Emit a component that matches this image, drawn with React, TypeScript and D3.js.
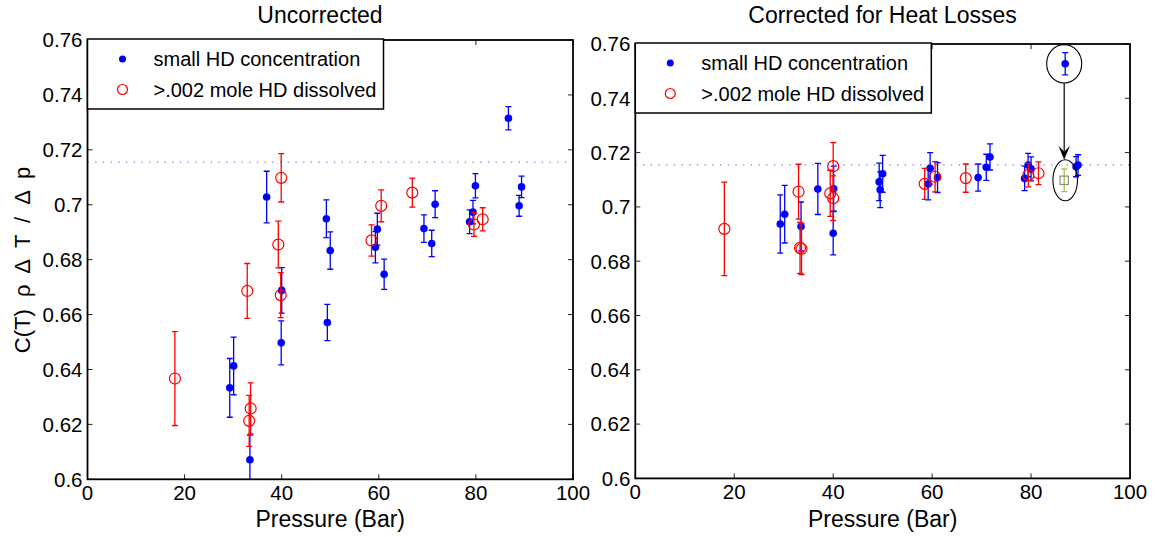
import React from 'react';
import * as d3 from 'd3';

const FONT = '"Liberation Sans", Arial, Helvetica, sans-serif';

// ---- Uncorrected measurements ----
// small HD concentration
const rawSmallP = [29.3, 30.1, 33.45, 36.9, 39.9, 40.0, 49.2, 49.4, 50.0, 59.3, 59.7, 61.1, 69.3, 70.9, 71.6, 78.7, 79.4, 79.9, 86.7, 88.9, 89.4];
const rawSmallV = [0.6333, 0.6413, 0.6071, 0.7028, 0.6497, 0.6688, 0.6949, 0.6571, 0.6833, 0.6845, 0.6911, 0.6747, 0.6913, 0.6859, 0.7002, 0.6938, 0.6973, 0.7069, 0.7315, 0.6996, 0.7065];
const rawSmallE = [0.0107, 0.0105, 0.009, 0.0094, 0.008, 0.0083, 0.0069, 0.0066, 0.0068, 0.0057, 0.0058, 0.0055, 0.005, 0.0048, 0.0049, 0.0043, 0.0043, 0.0044, 0.0042, 0.0038, 0.0039];
// >.002 mole HD dissolved
const rawHdP = [18.0, 32.9, 33.3, 33.6, 39.3, 39.8, 39.9, 58.5, 60.5, 66.9, 79.6, 81.4];
const rawHdV = [0.6367, 0.6686, 0.6213, 0.6258, 0.6855, 0.6671, 0.7098, 0.687, 0.6996, 0.7044, 0.6928, 0.6947];
const rawHdE = [0.0171, 0.01, 0.0093, 0.0093, 0.0085, 0.0082, 0.0088, 0.0057, 0.0058, 0.0053, 0.0043, 0.0042];

// ---- Corrected for heat losses ----
const corSmallP = [29.3, 30.2, 33.5, 36.9, 40.0, 40.1, 49.3, 49.5, 50.0, 59.2, 59.6, 61.1, 69.3, 70.95, 71.7, 78.7, 79.4, 80.0, 86.9, 89.1, 89.5];
const corSmallV = [0.6937, 0.6973, 0.6928, 0.7066, 0.6903, 0.7067, 0.7092, 0.7063, 0.7122, 0.7084, 0.7142, 0.7108, 0.7108, 0.7146, 0.7184, 0.7105, 0.7154, 0.714, 0.7527, 0.7148, 0.7154];
const corSmallE = [0.0107, 0.0106, 0.009, 0.0094, 0.008, 0.0083, 0.0069, 0.0066, 0.0068, 0.0058, 0.0058, 0.0055, 0.005, 0.0048, 0.0048, 0.0045, 0.0043, 0.0044, 0.0041, 0.0037, 0.0038];
const corHdP = [18.0, 33.0, 33.3, 33.6, 39.4, 40.0, 40.0, 58.5, 60.6, 66.8, 79.45, 81.5];
const corHdV = [0.6919, 0.7056, 0.6849, 0.6845, 0.705, 0.7032, 0.715, 0.7085, 0.7111, 0.7106, 0.7117, 0.7124];
const corHdE = [0.0172, 0.0101, 0.0094, 0.0094, 0.0085, 0.0082, 0.0087, 0.0057, 0.0056, 0.0052, 0.0043, 0.0042];

// flagged run and its reprocessed value
const flaggedP = 86.9;
const flaggedV = 0.7527;
const fixedP = 86.7;
const fixedV = 0.7098;
const fixedE = 0.0042;

// reference level
const refLevel = 0.7155;

const xTicks = [0, 20, 40, 60, 80, 100];
const xTickLabels = ['0', '20', '40', '60', '80', '100'];
const yTicks = [0.6, 0.62, 0.64, 0.66, 0.68, 0.7, 0.72, 0.74, 0.76];
const yTickLabels = ['0.6', '0.62', '0.64', '0.66', '0.68', '0.7', '0.72', '0.74', '0.76'];

const legendLabels = ['small HD concentration', '>.002 mole HD dissolved'];

const BLUE = '#0000ff';
const RED = '#ff0000';

type Series = { p: number[]; v: number[]; e: number[] };

type PanelProps = {
  id: string;
  x0: number;
  x1: number;
  yTop: number;
  yBot: number;
  title: string;
  titleX: number;
  small: Series;
  hd: Series;
  extras?: (x: d3.ScaleLinear<number, number>, y: d3.ScaleLinear<number, number>) => React.ReactNode;
};

function ErrorBars({ s, x, y, color }: { s: Series; x: any; y: any; color: string }) {
  const cap = 3;
  return (
    <g stroke={color} strokeWidth={1.3} fill="none">
      {s.p.map((p, i) => {
        const cx = x(p);
        const hi = y(s.v[i] + s.e[i]);
        const lo = y(s.v[i] - s.e[i]);
        return (
          <g key={i}>
            <line x1={cx} x2={cx} y1={hi} y2={lo} />
            <line x1={cx - cap} x2={cx + cap} y1={hi} y2={hi} />
            <line x1={cx - cap} x2={cx + cap} y1={lo} y2={lo} />
          </g>
        );
      })}
    </g>
  );
}

function Panel(props: PanelProps) {
  const { id, x0, x1, yTop, yBot, title, titleX, small, hd, extras } = props;
  const x = d3.scaleLinear().domain([0, 100]).range([x0, x1]);
  const y = d3.scaleLinear().domain([0.6, 0.76]).range([yBot, yTop]);
  const tick = 5;

  const lgX = x0;
  const lgY = yTop - 1;
  const lgW = 296;
  const lgH = 70;

  return (
    <g>
      <defs>
        <clipPath id={`clip-${id}`}>
          <rect x={x0} y={yTop} width={x1 - x0} height={yBot - yTop} />
        </clipPath>
      </defs>
      <rect x={x0} y={yTop} width={x1 - x0} height={yBot - yTop} fill="#fff" />

      {/* ticks on all four sides, pointing inward */}
      <g stroke="#222" strokeWidth={1}>
        {xTicks.map((t) => (
          <g key={`xt${t}`}>
            <line x1={x(t)} x2={x(t)} y1={yBot} y2={yBot - tick} />
            <line x1={x(t)} x2={x(t)} y1={yTop} y2={yTop + tick} />
          </g>
        ))}
        {yTicks.map((t) => (
          <g key={`yt${t}`}>
            <line x1={x0} x2={x0 + tick} y1={y(t)} y2={y(t)} />
            <line x1={x1} x2={x1 - tick} y1={y(t)} y2={y(t)} />
          </g>
        ))}
      </g>

      <g fontFamily={FONT} fontSize={20.5} fill="#000">
        {xTicks.map((t, i) => (
          <text key={`xl${t}`} x={x(t)} y={yBot + 21} textAnchor="middle">
            {xTickLabels[i]}
          </text>
        ))}
        {yTicks.map((t, i) => (
          <text key={`yl${t}`} x={x0 - 5} y={y(t)} dy="0.36em" textAnchor="end">
            {yTickLabels[i]}
          </text>
        ))}
      </g>

      {/* reference level */}
      <line
        x1={x0}
        x2={x1}
        y1={y(refLevel)}
        y2={y(refLevel)}
        stroke="#7b7bd8"
        strokeWidth={1.3}
        strokeDasharray="1.3 6.4"
      />

      <g clipPath={`url(#clip-${id})`}>
        <ErrorBars s={small} x={x} y={y} color={BLUE} />
        {small.p.map((p, i) => (
          <circle key={`s${i}`} cx={x(p)} cy={y(small.v[i])} r={3.8} fill={BLUE} />
        ))}
        <ErrorBars s={hd} x={x} y={y} color={RED} />
        {hd.p.map((p, i) => (
          <circle key={`h${i}`} cx={x(p)} cy={y(hd.v[i])} r={5.5} fill="none" stroke={RED} strokeWidth={1.2} />
        ))}
        {extras && extras(x, y)}
      </g>

      <rect x={x0} y={yTop} width={x1 - x0} height={yBot - yTop} fill="none" stroke="#000" strokeWidth={1.8} />

      {/* legend */}
      <g>
        <rect x={lgX} y={lgY} width={lgW} height={lgH} fill="#fff" stroke="#000" strokeWidth={1.5} />
        <circle cx={lgX + 35} cy={lgY + 20} r={3.5} fill={BLUE} />
        <circle cx={lgX + 35} cy={lgY + 50.5} r={5} fill="none" stroke={RED} strokeWidth={1.2} />
        <g fontFamily={FONT} fontSize={20} fill="#000">
          <text x={lgX + 66} y={lgY + 20} dy="0.36em">{legendLabels[0]}</text>
          <text x={lgX + 66} y={lgY + 50.5} dy="0.36em">{legendLabels[1]}</text>
        </g>
      </g>

      <text x={titleX} y={23} textAnchor="middle" fontFamily={FONT} fontSize={23} fill="#000">
        {title}
      </text>
      <text x={(x0 + x1) / 2} y={527} textAnchor="middle" fontFamily={FONT} fontSize={23} fill="#000">
        Pressure (Bar)
      </text>
    </g>
  );
}

export default function App() {
  const corrections = (x: any, y: any) => {
    const fx = x(flaggedP);
    const fy = y(flaggedV);
    const gx = x(fixedP);
    const gy = y(fixedV);
    const topRy = 19.2;
    const botRy = 20.5;
    const tipY = gy - botRy;
    const ax = fx - 1;
    return (
      <g>
        <ellipse cx={fx - 1} cy={fy} rx={17.5} ry={topRy} fill="none" stroke="#000" strokeWidth={1.1} />
        <line x1={ax} x2={ax} y1={fy + topRy} y2={tipY - 8} stroke="#000" strokeWidth={1.2} />
        <path
          d={`M${ax},${tipY} L${ax - 5.8},${tipY - 14} L${ax},${tipY - 8} L${ax + 5.8},${tipY - 14} Z`}
          fill="#000"
        />
        <g stroke="#b8b83a" strokeWidth={1.3}>
          <line x1={gx} x2={gx} y1={y(fixedV + fixedE)} y2={y(fixedV - fixedE)} />
          <line x1={gx - 3} x2={gx + 3} y1={y(fixedV + fixedE)} y2={y(fixedV + fixedE)} />
          <line x1={gx - 3} x2={gx + 3} y1={y(fixedV - fixedE)} y2={y(fixedV - fixedE)} />
        </g>
        <rect x={gx - 4.2} y={gy - 4.2} width={8.4} height={8.4} fill="none" stroke="#8a8a8a" strokeWidth={1.2} />
        <ellipse cx={gx + 1} cy={gy} rx={12.3} ry={botRy} fill="none" stroke="#000" strokeWidth={1.1} />
      </g>
    );
  };

  return (
    <svg
      width={1155}
      height={537}
      style={{ position: 'absolute', left: 0, top: 0, background: '#fff' }}
    >
      <rect width={1155} height={537} fill="#fff" />
      <Panel
        id="raw"
        x0={87.5}
        x1={573}
        yTop={40}
        yBot={479.3}
        title="Uncorrected"
        titleX={320}
        small={{ p: rawSmallP, v: rawSmallV, e: rawSmallE }}
        hd={{ p: rawHdP, v: rawHdV, e: rawHdE }}
      />
      <Panel
        id="cor"
        x0={635.3}
        x1={1130}
        yTop={44}
        yBot={478.4}
        title="Corrected for Heat Losses"
        titleX={882.5}
        small={{ p: corSmallP, v: corSmallV, e: corSmallE }}
        hd={{ p: corHdP, v: corHdV, e: corHdE }}
        extras={corrections}
      />
      <text
        transform="translate(30,260) rotate(-90)"
        textAnchor="middle"
        fontFamily={FONT}
        fontSize={22}
        fill="#000"
        style={{ wordSpacing: '6px' }}
      >
        C(T) ρ Δ T / Δ p
      </text>
    </svg>
  );
}
